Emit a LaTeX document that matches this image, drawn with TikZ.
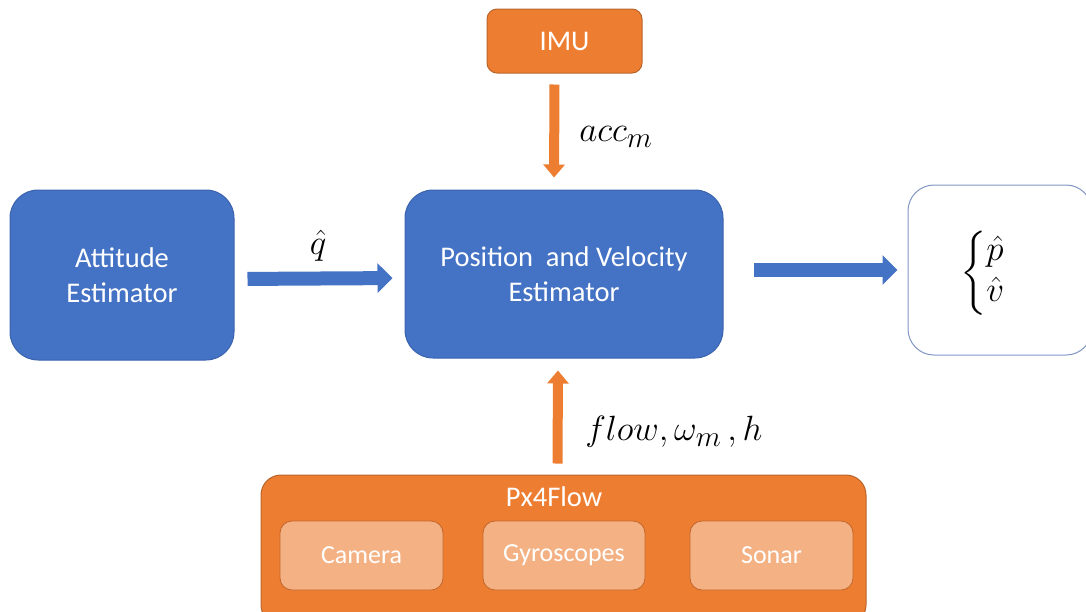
\documentclass[tikz,border=0pt]{standalone}
\usepackage{amsmath}
\usepackage{fontspec}
\setmainfont{Carlito}
\usetikzlibrary{arrows.meta}
\definecolor{bblue}{HTML}{4472C4}
\definecolor{bbord}{HTML}{3B63AD}
\definecolor{borange}{HTML}{ED7D31}
\definecolor{obord}{HTML}{B9652A}
\definecolor{lorange}{HTML}{F4B183}
\definecolor{lbord}{HTML}{C0662C}
\definecolor{gbord}{HTML}{8296C4}
\tikzset{
  txt/.style={text=white, align=center, font=\fontsize{28.5}{35}\selectfont},
  bluebox/.style={txt, draw=bbord, fill=bblue, line width=1pt, rounded corners=28pt, inner sep=0pt},
  orbox/.style={txt, draw=obord, fill=borange, line width=1pt, inner sep=0pt},
  inbox/.style={txt, font=\fontsize{26}{30}\selectfont, draw=lbord, fill=lorange, line width=0.8pt, rounded corners=12pt, inner sep=0pt},
  outbox/.style={draw=gbord, fill=white, line width=1pt, rounded corners=26pt, inner sep=0pt},
  barrow/.style={draw=bblue, line width=14pt, -{Triangle[length=15pt,width=29pt]}},
  oarrow/.style={draw=borange, line width=10pt, -{Triangle[length=13pt,width=21pt]}},
  mlabel/.style={font=\fontsize{24.88}{28.4}\selectfont, scale=1.41, inner sep=0pt}
}
\begin{document}
\begin{tikzpicture}[x=1pt,y=-1pt]
\useasboundingbox (0,0) rectangle (1086,611);
\clip (0,0) rectangle (1086,611);
% boxes
\node[orbox, rounded corners=10pt, minimum width=155, minimum height=64] (imu) at (564.5,41) {IMU};
\node[bluebox, minimum width=224, minimum height=170] (att) at (122,275) {Attitude\\Estimator};
\node[bluebox, minimum width=318, minimum height=168] (pos) at (564,274) {Position\ \ and Velocity\\Estimator};
\node[outbox, minimum width=184, minimum height=170] (out) at (1000,270) {};
\node[orbox, rounded corners=20pt, minimum width=605, minimum height=150] (px) at (563.5,550) {};
\node[txt, inner sep=0pt] (pxlabel) at (554,497) {Px4Flow};
\node[inbox, minimum width=163, minimum height=69] (cam) at (361.5,555.5) {Camera};
\node[inbox, minimum width=162, minimum height=69] (gyro) at (564,555.5) {Gyroscopes};
\node[inbox, minimum width=163, minimum height=69] (sonar) at (771.5,555.5) {Sonar};
% output text
\node[mlabel] (outtxt) at (983,273) {$\left\{\begin{array}{@{}l@{}}\hat{p}\\ \hat{v}\end{array}\right.$};
% arrows
\draw[barrow, shorten <=13pt, shorten >=12pt] ([yshift=-4pt]att.east) -- ([yshift=-4pt]pos.west);
\draw[barrow, shorten <=30pt, shorten >=10pt] ([yshift=4pt]pos.east) -- (out.west);
\draw[oarrow, shorten <=11pt, shorten >=12pt] ([xshift=-10pt]imu.south) -- ([xshift=-10pt]pos.north);
\draw[oarrow, shorten <=11pt, shorten >=12pt] ([xshift=-6pt]px.north) -- ([xshift=-6pt]pos.south);
% labels
\node[mlabel] (qlab) at (318,246) {$\hat{q}$};
\node[mlabel, anchor=west] (acclab) at (579,137) {$acc_m$};
\node[mlabel, anchor=west] (flowlab) at (585,432) {$flow,\omega_m\,,h$};
\end{tikzpicture}
\end{document}
